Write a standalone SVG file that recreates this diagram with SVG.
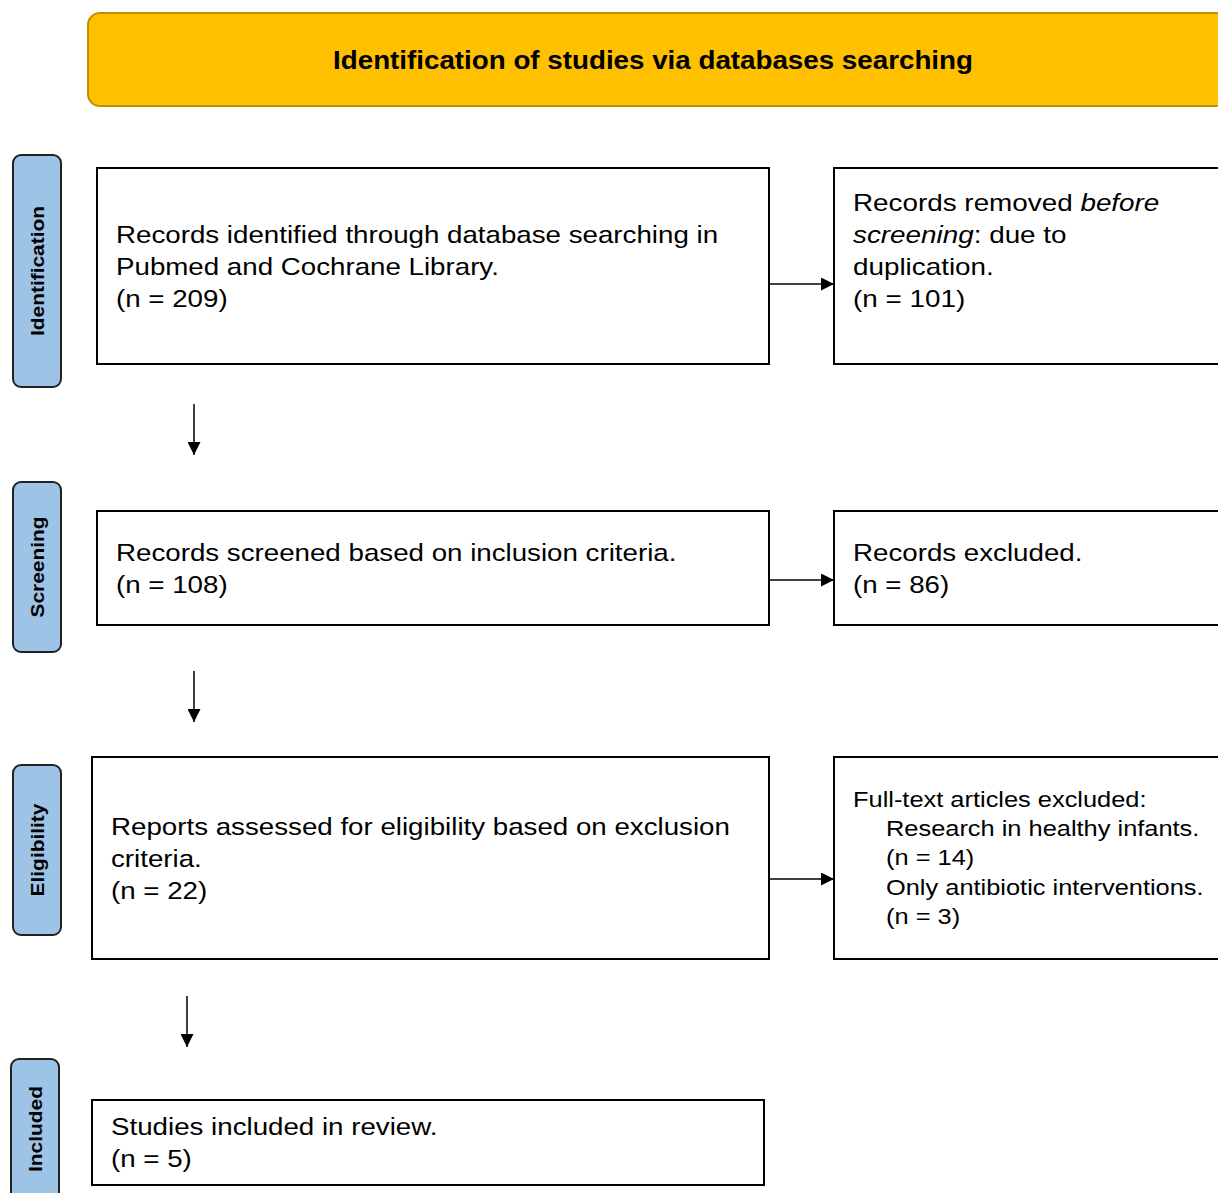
<svg xmlns="http://www.w3.org/2000/svg" width="1218" height="1193" viewBox="0 0 1218 1193">
<style>
.box{fill:#fff;stroke:#000;stroke-width:2}
.side{fill:#9DC3E6;stroke:#222;stroke-width:2}
.t{font-family:"Liberation Sans",Arial,sans-serif;font-size:24px;fill:#000}
.s{font-family:"Liberation Sans",Arial,sans-serif;font-size:22px;fill:#000}
.lab{font-family:"Liberation Sans",Arial,sans-serif;font-size:19px;font-weight:bold;fill:#000;text-anchor:middle}
.conn{stroke:#000;stroke-width:1.5;fill:none}
</style>
<defs>
<marker id="ah" viewBox="0 0 10 10" refX="10" refY="5" markerWidth="13" markerHeight="13" markerUnits="userSpaceOnUse" orient="auto">
<path d="M0,0 L10,5 L0,10 z" fill="#000"/>
</marker>
</defs>
<rect width="1218" height="1193" fill="#fff"/>
<g id="header">
<rect x="88" y="13" width="1140" height="93" rx="12" fill="#FFC000" stroke="#BF9000" stroke-width="2"/>
<text transform="translate(653,69) scale(1.11,1)" x="0" y="0" font-family="Liberation Sans, Arial, sans-serif" font-size="25" font-weight="bold" text-anchor="middle">Identification of studies via databases searching</text>
</g>
<g id="lab-identification">
<rect class="side" x="13" y="155" width="48" height="232" rx="8"/>
<text class="lab" transform="translate(44,271) rotate(-90) scale(1.1,1)">Identification</text>
</g>
<g id="lab-screening">
<rect class="side" x="13" y="482" width="48" height="170" rx="8"/>
<text class="lab" transform="translate(44,567) rotate(-90) scale(1.1,1)">Screening</text>
</g>
<g id="lab-eligibility">
<rect class="side" x="13" y="765" width="48" height="170" rx="8"/>
<text class="lab" transform="translate(44,850) rotate(-90) scale(1.1,1)">Eligibility</text>
</g>
<g id="lab-included">
<rect class="side" x="11" y="1059" width="48" height="150" rx="8"/>
<text class="lab" transform="translate(42,1129) rotate(-90) scale(1.1,1)">Included</text>
</g>
<g id="n-identified">
<rect class="box" x="97" y="168" width="672" height="196"/>
<g transform="translate(116,0) scale(1.155,1)">
<text class="t" x="0" y="243">Records identified through database searching in</text>
<text class="t" x="0" y="275">Pubmed and Cochrane Library.</text>
<text class="t" x="0" y="307">(n = 209)</text>
</g>
</g>
<g id="n-removed">
<rect class="box" x="834" y="168" width="400" height="196"/>
<g transform="translate(853,0) scale(1.16,1)">
<text class="t" x="0" y="211">Records removed <tspan font-style="italic">before</tspan></text>
<text class="t" x="0" y="243"><tspan font-style="italic">screening</tspan>: due to</text>
<text class="t" x="0" y="275">duplication.</text>
<text class="t" x="0" y="307">(n = 101)</text>
</g>
</g>
<g id="n-screened">
<rect class="box" x="97" y="511" width="672" height="114"/>
<g transform="translate(116,0) scale(1.155,1)">
<text class="t" x="0" y="561">Records screened based on inclusion criteria.</text>
<text class="t" x="0" y="593">(n = 108)</text>
</g>
</g>
<g id="n-excluded">
<rect class="box" x="834" y="511" width="400" height="114"/>
<g transform="translate(853,0) scale(1.155,1)">
<text class="t" x="0" y="561">Records excluded.</text>
<text class="t" x="0" y="593">(n = 86)</text>
</g>
</g>
<g id="n-eligibility">
<rect class="box" x="92" y="757" width="677" height="202"/>
<g transform="translate(111,0) scale(1.155,1)">
<text class="t" x="0" y="835">Reports assessed for eligibility based on exclusion</text>
<text class="t" x="0" y="867">criteria.</text>
<text class="t" x="0" y="899">(n = 22)</text>
</g>
</g>
<g id="n-fulltext">
<rect class="box" x="834" y="757" width="400" height="202"/>
<g transform="translate(853,0) scale(1.155,1)">
<text class="s" x="0" y="807">Full-text articles excluded:</text>
</g>
<g transform="translate(886,0) scale(1.155,1)">
<text class="s" x="0" y="836">Research in healthy infants.</text>
<text class="s" x="0" y="865">(n = 14)</text>
<text class="s" x="0" y="895">Only antibiotic interventions.</text>
<text class="s" x="0" y="924">(n = 3)</text>
</g>
</g>
<g id="n-included">
<rect class="box" x="92" y="1100" width="672" height="85"/>
<g transform="translate(111,0) scale(1.155,1)">
<text class="t" x="0" y="1135">Studies included in review.</text>
<text class="t" x="0" y="1167">(n = 5)</text>
</g>
</g>
<g id="connectors">
<line class="conn" x1="769" y1="284" x2="834" y2="284" marker-end="url(#ah)"/>
<line class="conn" x1="769" y1="580" x2="834" y2="580" marker-end="url(#ah)"/>
<line class="conn" x1="769" y1="879" x2="834" y2="879" marker-end="url(#ah)"/>
<line class="conn" x1="194" y1="404" x2="194" y2="455" marker-end="url(#ah)"/>
<line class="conn" x1="194" y1="671" x2="194" y2="722" marker-end="url(#ah)"/>
<line class="conn" x1="187" y1="996" x2="187" y2="1047" marker-end="url(#ah)"/>
</g>
</svg>
